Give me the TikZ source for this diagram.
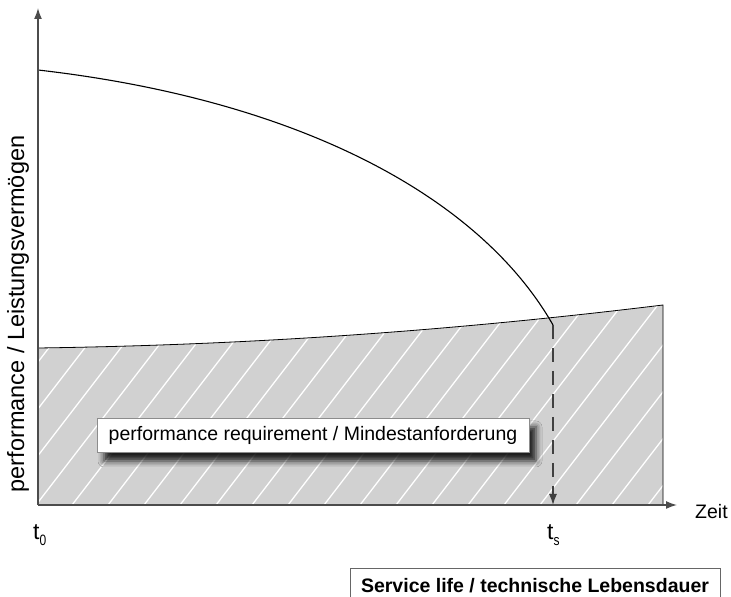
\documentclass[tikz,border=0pt]{standalone}
\usepackage{fontspec}
\setmainfont{Liberation Sans}
\usetikzlibrary{arrows.meta,shadows.blur,calc}
\newcommand{\tsub}[1]{t\raisebox{-6pt}{\fontsize{15}{15}\selectfont\scalebox{0.8}[1]{#1}}}
\tikzset{
  axis/.style={line width=1.5pt,black!70,-{Latex[length=11pt,width=8pt]}},
  curve/.style={line width=1.1pt,black},
  label/.style={font=\fontsize{19.5}{22}\selectfont,inner sep=0pt},
  tlabel/.style={font=\fontsize{23}{24}\selectfont,inner sep=0pt,anchor=base west},
  reqbox/.style={draw=black!45,line width=0.6pt,fill=white,inner sep=0pt,
    minimum width=432pt,minimum height=34pt,font=\fontsize{19.5}{22}\selectfont,
    blur shadow={shadow xshift=7pt,shadow yshift=-9pt,shadow blur radius=6pt,shadow opacity=85}},
  lifebox/.style={draw=black!60,line width=0.8pt,fill=white,inner sep=0pt,
    minimum width=370pt,minimum height=36pt,font=\bfseries\fontsize{19.5}{22}\selectfont}
}
\begin{document}
\begin{tikzpicture}[x=1pt,y=1pt]
\useasboundingbox (0,0) rectangle (731,597);
% points
\coordinate (o) at (38,92);
\coordinate (req0) at (38,249);
\coordinate (reqE) at (663,292);
\coordinate (reqB) at (663,92);
\coordinate (ts) at (553,272);
\coordinate (tsB) at (553,92);
\coordinate (p0) at (38,527);
\coordinate (ytop) at (38,589);
\coordinate (xend) at (677,92);
% hatched area below requirement
\fill[black!18] (o) -- (req0) .. controls (250,252) and (450,266) .. (reqE) -- (reqB) -- cycle;
\begin{scope}
\clip (o) -- (req0) .. controls (250,252) and (450,266) .. (reqE) -- (reqB) -- cycle;
\foreach \i in {-8,...,19}
  \draw[white,line width=1.3pt] (\i*36,92) -- ++(200,260);
\end{scope}
\draw[curve,line width=0.8pt] (req0) .. controls (250,252) and (450,266) .. (reqE) -- (reqB);
% performance curve
\draw[curve] (p0) .. controls (300,497) and (480,400) .. (ts);
% axes
\draw[axis] (o) -- (ytop);
\draw[axis] (o) -- (xend);
\draw[black!75,line width=1.3pt,dash pattern=on 14pt off 9pt] (ts) -- ($(tsB)+(0,12)$);
\draw[black!75,line width=1.3pt,-{Latex[length=11pt,width=8pt]}] ($(tsB)+(0,16)$) -- (tsB);
% labels
\node[label,anchor=west] (zeit) at (695,85) {Zeit};
\node[tlabel] (t0) at (33,57) {\tsub{0}};
\node[tlabel] (ts lbl) at (547,57) {\tsub{s}};
\node[label,font=\fontsize{23.5}{26}\selectfont,rotate=90] (perf) at (18,283) {performance / Leistungsvermögen};
\node[reqbox] (req) at (313,162) {performance requirement / Mindestanforderung};
\node[lifebox] (life) at (535,11) {Service life / technische Lebensdauer};
\end{tikzpicture}
\end{document}
